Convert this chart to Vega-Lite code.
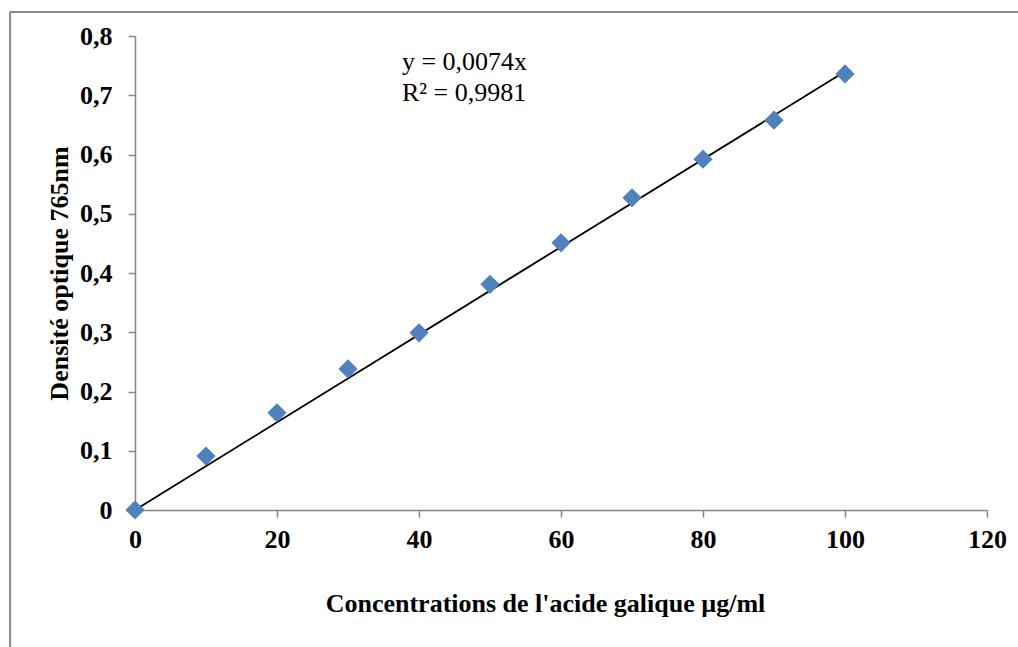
{
  "$schema": "https://vega.github.io/schema/vega-lite/v6.json",
  "width": 852,
  "height": 474,
  "autosize": {"type": "none"},
  "padding": {"left": 135, "top": 36, "right": 31, "bottom": 137},
  "background": "white",
  "config": {
    "view": {"stroke": null},
    "font": "Liberation Serif",
    "axis": {
      "grid": false,
      "labelFlush": false,
      "labelOverlap": false,
      "domainColor": "#868686",
      "domainWidth": 1.5,
      "tickColor": "#868686",
      "tickWidth": 1.5,
      "tickSize": 7,
      "labelFont": "Liberation Serif",
      "labelFontSize": 26,
      "labelFontWeight": "bold",
      "labelColor": "black",
      "titleFont": "Liberation Serif",
      "titleFontSize": 26,
      "titleFontWeight": "bold",
      "titleColor": "black"
    }
  },
  "datasets": {
    "mesures": [
      {"concentration": 0, "densite": 0},
      {"concentration": 10, "densite": 0.091},
      {"concentration": 20, "densite": 0.164},
      {"concentration": 30, "densite": 0.238},
      {"concentration": 40, "densite": 0.299},
      {"concentration": 50, "densite": 0.381},
      {"concentration": 60, "densite": 0.451},
      {"concentration": 70, "densite": 0.527},
      {"concentration": 80, "densite": 0.592},
      {"concentration": 90, "densite": 0.658},
      {"concentration": 100, "densite": 0.736}
    ],
    "tendance": [
      {"concentration": 0, "densite": 0},
      {"concentration": 100, "densite": 0.74}
    ],
    "equation": [
      {"ligne": "y = 0,0074x", "x": 37.6, "y": 0.7426},
      {"ligne": "R² = 0,9981", "x": 37.6, "y": 0.6903}
    ],
    "cadre": [{}]
  },
  "layer": [
    {
      "data": {"name": "cadre"},
      "mark": {"type": "rule", "color": "#8a8a8a", "strokeWidth": 2, "clip": false},
      "encoding": {
        "x": {"datum": -17.6, "type": "quantitative", "scale": {"domain": [0, 120]}},
        "x2": {"datum": 124.5},
        "y": {"datum": 0.8405, "type": "quantitative", "scale": {"domain": [0, 0.8]}}
      }
    },
    {
      "data": {"name": "cadre"},
      "mark": {"type": "rule", "color": "#8a8a8a", "strokeWidth": 2, "clip": false},
      "encoding": {
        "x": {"datum": -17.6, "type": "quantitative"},
        "y": {"datum": 0.8405, "type": "quantitative"},
        "y2": {"datum": -0.24}
      }
    },
    {
      "data": {"name": "tendance"},
      "mark": {"type": "line", "color": "black", "strokeWidth": 1.8},
      "encoding": {
        "x": {"field": "concentration", "type": "quantitative"},
        "y": {"field": "densite", "type": "quantitative"}
      }
    },
    {
      "data": {"name": "mesures"},
      "mark": {"type": "point", "shape": "diamond", "filled": true, "opacity": 1, "color": "#4F81BD", "size": 370},
      "encoding": {
        "x": {
          "field": "concentration",
          "type": "quantitative",
          "scale": {"domain": [0, 120], "nice": false},
          "axis": {
            "values": [0, 20, 40, 60, 80, 100, 120],
            "labelPadding": 9,
            "title": "Concentrations de l'acide galique µg/ml",
            "titleX": 410,
            "titleY": 101,
            "titleBaseline": "alphabetic",
            "titleAnchor": null
          }
        },
        "y": {
          "field": "densite",
          "type": "quantitative",
          "scale": {"domain": [0, 0.8], "nice": false},
          "axis": {
            "values": [0, 0.1, 0.2, 0.3, 0.4, 0.5, 0.6, 0.7, 0.8],
            "labelExpr": "datum.value == 0 ? '0' : replace(format(datum.value, '.1f'), '.', ',')",
            "labelPadding": 16,
            "title": "Densité optique 765nm",
            "titleX": -68,
            "titleY": 237,
            "titleBaseline": "alphabetic",
            "titleAnchor": null
          }
        }
      }
    },
    {
      "data": {"name": "equation"},
      "mark": {"type": "text", "align": "left", "baseline": "alphabetic", "font": "Liberation Serif", "fontSize": 26, "color": "black"},
      "encoding": {
        "x": {"field": "x", "type": "quantitative"},
        "y": {"field": "y", "type": "quantitative"},
        "text": {"field": "ligne"}
      }
    }
  ]
}
